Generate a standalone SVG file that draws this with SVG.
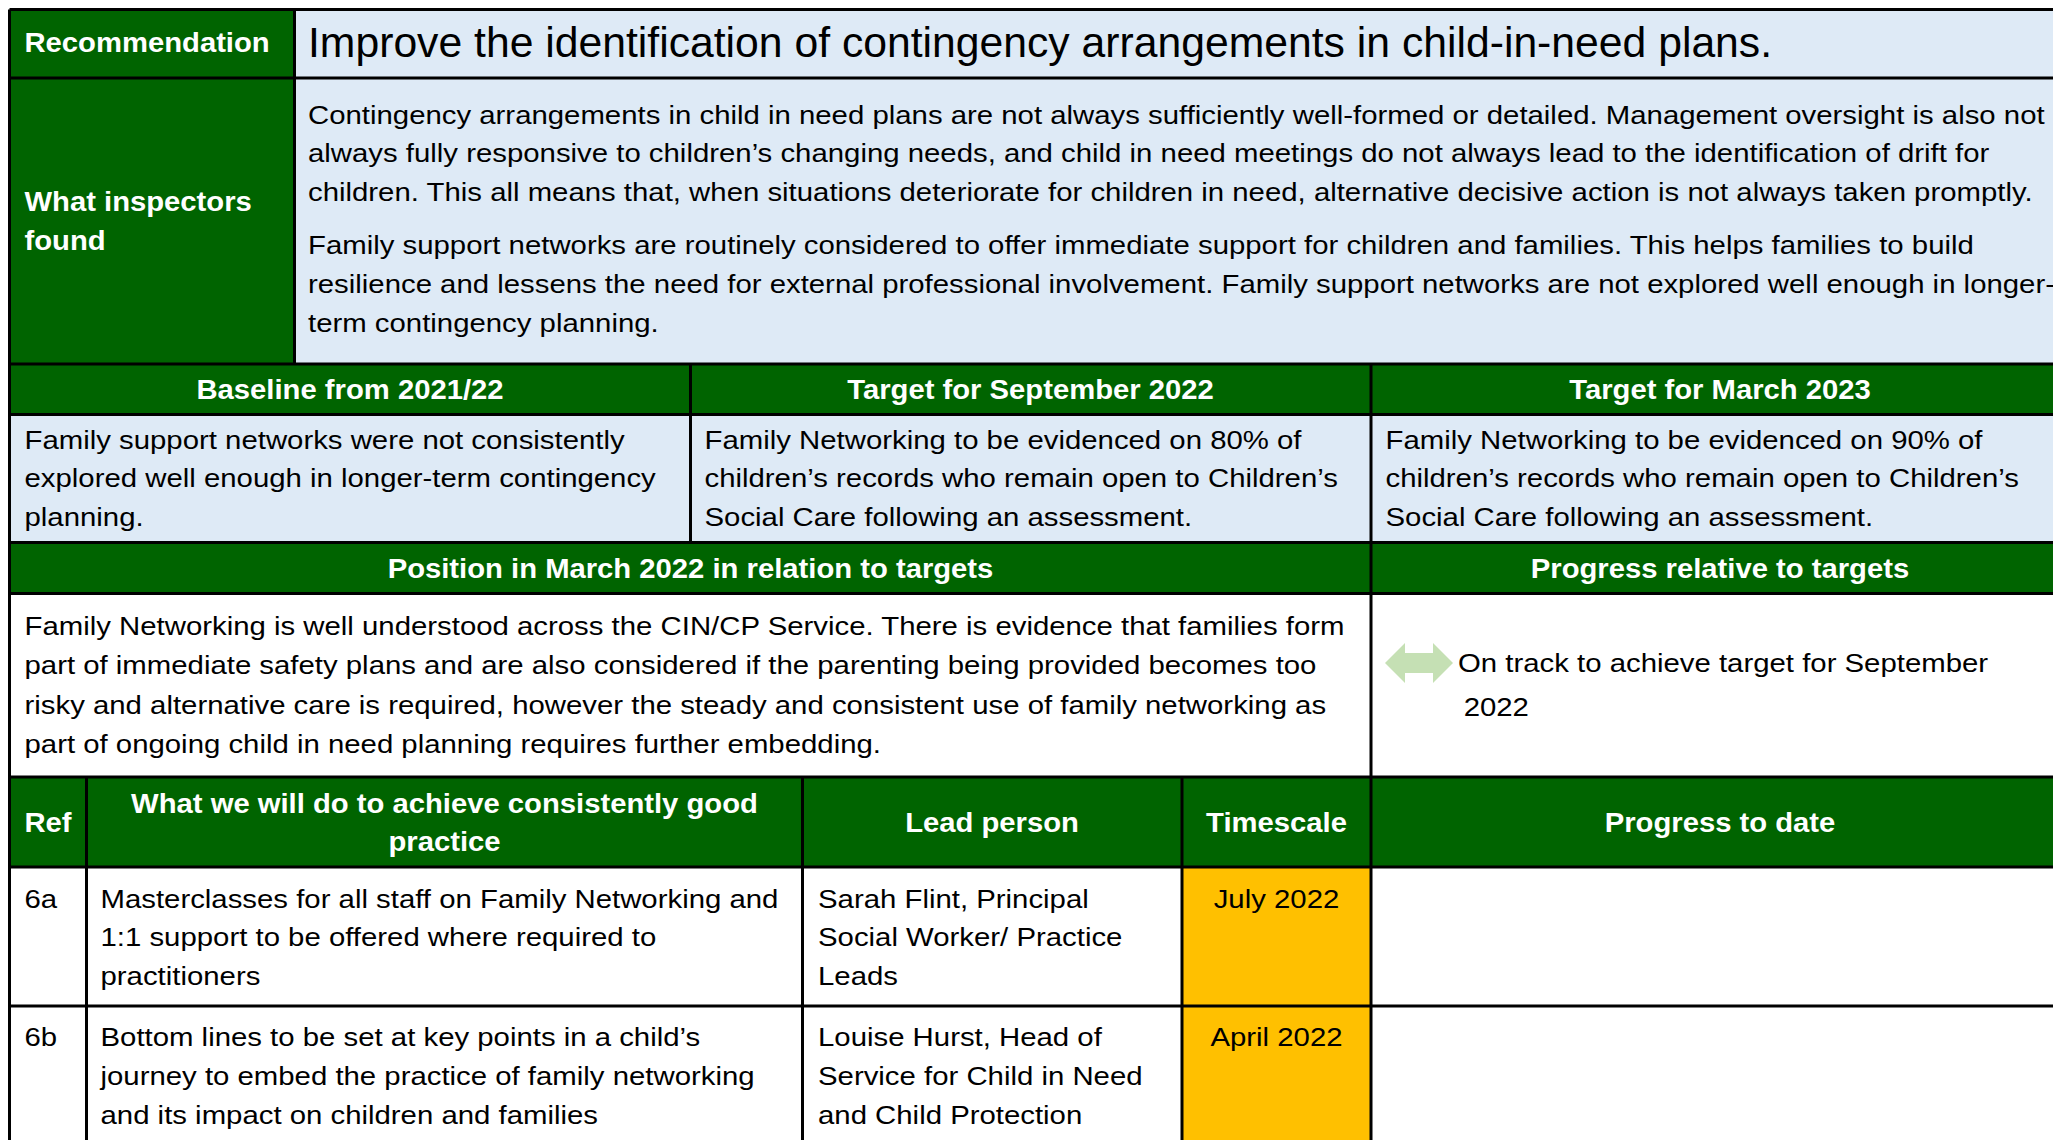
<svg xmlns="http://www.w3.org/2000/svg" width="2053" height="1140" viewBox="0 0 2053 1140">
<style>
.g{fill:#006400}
.lb{fill:#DEEAF6}
.w{fill:#ffffff}
.y{fill:#FFC000}
.ln{stroke:#000;stroke-width:3;fill:none}
.h{font-family:"Liberation Sans",Arial,sans-serif;font-weight:bold;font-size:27px;fill:#fff}
.b{font-family:"Liberation Sans",Arial,sans-serif;font-size:26px;fill:#000}
.t{font-family:"Liberation Sans",Arial,sans-serif;font-size:42.7px;fill:#000}
.c{text-anchor:middle}
</style>
<rect x="0" y="0" width="2053" height="1140" fill="#fff"/>
<g id="recommendation">
<rect class="g" x="9.5" y="9.5" width="285" height="68.5"/>
<text class="h" transform="translate(24.5,52) scale(1.083,1)">Recommendation</text>
</g>
<g id="recommendation-text">
<rect class="lb" x="294.5" y="9.5" width="1775" height="68.5"/>
<text class="t" transform="translate(308,57)">Improve the identification of contingency arrangements in child-in-need plans.</text>
</g>
<g id="inspectors-label">
<rect class="g" x="9.5" y="78" width="285" height="286"/>
<text class="h" transform="translate(24.5,210.5) scale(1.083,1)"><tspan x="0" y="0">What inspectors</tspan><tspan x="0" y="40">found</tspan></text>
</g>
<g id="inspectors-text">
<rect class="lb" x="294.5" y="78" width="1775" height="286"/>
<text class="b" transform="translate(308,123.5) scale(1.129,1)"><tspan x="0" y="0">Contingency arrangements in child in need plans are not always sufficiently well-formed or detailed. Management oversight is also not</tspan><tspan x="0" y="38.7">always fully responsive to children’s changing needs, and child in need meetings do not always lead to the identification of drift for</tspan><tspan x="0" y="77.4">children. This all means that, when situations deteriorate for children in need, alternative decisive action is not always taken promptly.</tspan><tspan x="0" y="131">Family support networks are routinely considered to offer immediate support for children and families. This helps families to build</tspan><tspan x="0" y="170">resilience and lessens the need for external professional involvement. Family support networks are not explored well enough in longer-</tspan><tspan x="0" y="209">term contingency planning.</tspan></text>
</g>
<g id="baseline-header">
<rect class="g" x="9.5" y="364" width="681" height="50.5"/>
<text class="h c" transform="translate(350,398.5) scale(1.083,1)">Baseline from 2021/22</text>
</g>
<g id="sept-header">
<rect class="g" x="690.5" y="364" width="680.5" height="50.5"/>
<text class="h c" transform="translate(1030.5,398.5) scale(1.083,1)">Target for September 2022</text>
</g>
<g id="march-header">
<rect class="g" x="1371" y="364" width="698" height="50.5"/>
<text class="h c" transform="translate(1720,398.5) scale(1.083,1)">Target for March 2023</text>
</g>
<g id="baseline-text">
<rect class="lb" x="9.5" y="414.5" width="681" height="128"/>
<text class="b" transform="translate(24.5,448.5) scale(1.129,1)"><tspan x="0" y="0">Family support networks were not consistently</tspan><tspan x="0" y="38.8">explored well enough in longer-term contingency</tspan><tspan x="0" y="77.6">planning.</tspan></text>
</g>
<g id="sept-text">
<rect class="lb" x="690.5" y="414.5" width="680.5" height="128"/>
<text class="b" transform="translate(704.5,448.5) scale(1.129,1)"><tspan x="0" y="0">Family Networking to be evidenced on 80% of</tspan><tspan x="0" y="38.8">children’s records who remain open to Children’s</tspan><tspan x="0" y="77.6">Social Care following an assessment.</tspan></text>
</g>
<g id="march-text">
<rect class="lb" x="1371" y="414.5" width="698" height="128"/>
<text class="b" transform="translate(1385.5,448.5) scale(1.129,1)"><tspan x="0" y="0">Family Networking to be evidenced on 90% of</tspan><tspan x="0" y="38.8">children’s records who remain open to Children’s</tspan><tspan x="0" y="77.6">Social Care following an assessment.</tspan></text>
</g>
<g id="position-header">
<rect class="g" x="9.5" y="542.5" width="1361.5" height="51"/>
<text class="h c" transform="translate(690.5,577.5) scale(1.083,1)">Position in March 2022 in relation to targets</text>
</g>
<g id="progress-header">
<rect class="g" x="1371" y="542.5" width="698" height="51"/>
<text class="h c" transform="translate(1720,577.5) scale(1.083,1)">Progress relative to targets</text>
</g>
<g id="position-text">
<rect class="w" x="9.5" y="593.5" width="1361.5" height="183.5"/>
<text class="b" transform="translate(24.5,635.3) scale(1.129,1)"><tspan x="0" y="0">Family Networking is well understood across the CIN/CP Service. There is evidence that families form</tspan><tspan x="0" y="39.2">part of immediate safety plans and are also considered if the parenting being provided becomes too</tspan><tspan x="0" y="78.4">risky and alternative care is required, however the steady and consistent use of family networking as</tspan><tspan x="0" y="117.6">part of ongoing child in need planning requires further embedding.</tspan></text>
</g>
<g id="progress-text">
<rect class="w" x="1371" y="593.5" width="698" height="183.5"/>
<polygon fill="#C5E0B4" points="1385,663 1405,643 1405,653 1433,653 1433,643 1453,663 1433,683 1433,673 1405,673 1405,683"/>
<text class="b" transform="translate(1458,672) scale(1.129,1)"><tspan x="0" y="0">On track to achieve target for September</tspan><tspan x="5" y="44">2022</tspan></text>
</g>
<g id="ref-header">
<rect class="g" x="9.5" y="777" width="2059.5" height="90"/>
<text class="h" transform="translate(24.5,831.5) scale(1.083,1)">Ref</text>
<text class="h c" transform="translate(444.5,812.5) scale(1.083,1)"><tspan x="0" y="0">What we will do to achieve consistently good</tspan><tspan x="0" y="39">practice</tspan></text>
<text class="h c" transform="translate(992,831.5) scale(1.083,1)">Lead person</text>
<text class="h c" transform="translate(1276.5,831.5) scale(1.083,1)">Timescale</text>
<text class="h c" transform="translate(1720,831.5) scale(1.083,1)">Progress to date</text>
</g>
<g id="row-6a">
<rect class="w" x="9.5" y="867" width="2059.5" height="139"/>
<rect class="y" x="1182" y="867" width="189" height="139"/>
<text class="b" transform="translate(24.5,907.5) scale(1.129,1)">6a</text>
<text class="b" transform="translate(100.5,907.5) scale(1.129,1)"><tspan x="0" y="0">Masterclasses for all staff on Family Networking and</tspan><tspan x="0" y="38.8">1:1 support to be offered where required to</tspan><tspan x="0" y="77.6">practitioners</tspan></text>
<text class="b" transform="translate(818,907.5) scale(1.129,1)"><tspan x="0" y="0">Sarah Flint, Principal</tspan><tspan x="0" y="38.8">Social Worker/ Practice</tspan><tspan x="0" y="77.6">Leads</tspan></text>
<text class="b c" transform="translate(1276.5,907.5) scale(1.129,1)">July 2022</text>
</g>
<g id="row-6b">
<rect class="w" x="9.5" y="1006" width="2059.5" height="134"/>
<rect class="y" x="1182" y="1006" width="189" height="134"/>
<text class="b" transform="translate(24.5,1046) scale(1.129,1)">6b</text>
<text class="b" transform="translate(100.5,1046) scale(1.129,1)"><tspan x="0" y="0">Bottom lines to be set at key points in a child’s</tspan><tspan x="0" y="39">journey to embed the practice of family networking</tspan><tspan x="0" y="78">and its impact on children and families</tspan></text>
<text class="b" transform="translate(818,1046) scale(1.129,1)"><tspan x="0" y="0">Louise Hurst, Head of</tspan><tspan x="0" y="39">Service for Child in Need</tspan><tspan x="0" y="78">and Child Protection</tspan></text>
<text class="b c" transform="translate(1276.5,1046) scale(1.129,1)">April 2022</text>
</g>
<g id="grid" class="ln">
<path d="M9.5 9.5H2069M9.5 78H2069M9.5 364H2069M9.5 414.5H2069M9.5 542.5H2069M9.5 593.5H2069M9.5 777H2069M9.5 867H2069M9.5 1006H2069"/>
<path d="M9.5 9.5V1140M294.5 9.5V364M690.5 364V542.5M1371 364V1140M86.5 777V1140M802.5 777V1140M1182 777V1140"/>
</g>
</svg>
